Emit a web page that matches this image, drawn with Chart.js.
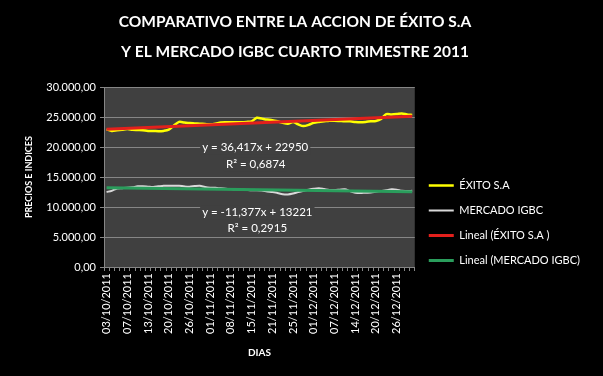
<!DOCTYPE html>
<html>
<head>
<meta charset="utf-8">
<script src="https://cdn.jsdelivr.net/npm/chart.js@4.4.0/dist/chart.umd.min.js"></script>
<style>
html,body{margin:0;padding:0;background:#000;}
</style>
</head>
<body>
<canvas id="chart_exito" width="603" height="376"></canvas>
<script>
// dias de negociacion, cuarto trimestre 2011
const dias = [
  "03/10/2011","04/10/2011","05/10/2011","06/10/2011","07/10/2011","10/10/2011","11/10/2011","12/10/2011","13/10/2011","14/10/2011",
  "18/10/2011","19/10/2011","20/10/2011","21/10/2011","24/10/2011","25/10/2011","26/10/2011","27/10/2011","28/10/2011","31/10/2011",
  "01/11/2011","02/11/2011","03/11/2011","04/11/2011","08/11/2011","09/11/2011","10/11/2011","11/11/2011","15/11/2011","16/11/2011",
  "17/11/2011","18/11/2011","21/11/2011","22/11/2011","23/11/2011","24/11/2011","25/11/2011","28/11/2011","29/11/2011","30/11/2011",
  "01/12/2011","02/12/2011","05/12/2011","06/12/2011","07/12/2011","09/12/2011","12/12/2011","13/12/2011","14/12/2011","15/12/2011",
  "16/12/2011","19/12/2011","20/12/2011","21/12/2011","22/12/2011","23/12/2011","26/12/2011","27/12/2011","28/12/2011","29/12/2011"
];

const exito = [
  22950,22700,22800,22900,23000,22900,22850,22800,22700,22700,
  22650,22700,22900,23600,24200,24100,24000,23950,23900,23850,
  23800,23900,24100,24150,24150,24150,24150,24200,24300,24900,
  24750,24600,24500,24300,24050,23900,24200,23800,23500,23700,
  24050,24200,24300,24400,24400,24350,24300,24300,24200,24150,
  24200,24300,24350,24700,25500,25450,25500,25600,25450,25350
];

const igbc = [
  12520,12700,13100,13150,13200,13300,13450,13450,13400,13350,
  13450,13550,13560,13550,13560,13450,13400,13500,13550,13350,
  13230,13200,13120,13050,13000,12960,12900,12850,12800,12800,
  12750,12600,12520,12350,12150,12100,12250,12500,12700,12900,
  13050,13130,13000,12850,12850,12900,12950,12650,12400,12350,
  12400,12420,12550,12680,12800,12950,12900,12700,12680,12700
];

// lineas de tendencia (primer y ultimo dia)
const tendenciaExito = [22986, 25135];
const tendenciaIgbc = [13210, 12538];

const ejeY = { min: 0, max: 30000, paso: 5000 };

function extremos(par){
  const arr = dias.map(() => null);
  arr[0] = par[0];
  arr[arr.length - 1] = par[1];
  return arr;
}

function formato(v){
  return Math.round(v).toString().replace(/\B(?=(\d{3})+(?!\d))/g, '.') + ',00';
}

const FUENTE = 'Lato, "Open Sans", sans-serif';

const fondo = {
  id: 'fondo',
  beforeDraw(chart){
    const {ctx, chartArea: a} = chart;
    ctx.save();
    ctx.fillStyle = '#000';
    ctx.fillRect(0, 0, chart.width, chart.height);
    ctx.fillStyle = '#404040';
    ctx.fillRect(a.left, a.top, a.right - a.left, a.bottom - a.top);
    ctx.restore();
  }
};

// ecuaciones de las tendencias, ubicadas en unidades del grafico
const ecuaciones = {
  id: 'ecuaciones',
  afterDatasetsDraw(chart){
    const {ctx, scales: {x, y}} = chart;
    const notas = [
      {t: 'y = 36,417x + 22950', i: 28.7, v: 19900},
      {t: 'R² = 0,6874', i: 28.8, v: 17150},
      {t: 'y = -11,377x + 13221', i: 29.1, v: 9050},
      {t: 'R² = 0,2915', i: 29.1, v: 6500}
    ];
    ctx.save();
    ctx.font = '11.5px ' + FUENTE;
    ctx.textAlign = 'center';
    ctx.textBaseline = 'middle';
    notas.forEach(n => {
      const px = x.getPixelForValue(n.i);
      const py = y.getPixelForValue(n.v);
      const w = ctx.measureText(n.t).width;
      ctx.fillStyle = '#404040';
      ctx.fillRect(px - w / 2 - 2, py - 7, w + 4, 14);
      ctx.fillStyle = '#fff';
      ctx.fillText(n.t, px, py);
    });
    ctx.restore();
  }
};

function dibujar(){
  new Chart(document.getElementById('chart_exito'), {
    type: 'line',
    data: {
      labels: dias,
      datasets: [{
        label: 'ÉXITO S.A',
        data: exito,
        borderColor: '#ffff00',
        borderWidth: 2.5,
        tension: 0.3,
        order: 1
      }, {
        label: 'MERCADO IGBC',
        data: igbc,
        borderColor: '#d9d9d9',
        borderWidth: 2,
        tension: 0.3,
        order: 1
      }, {
        label: 'Lineal (ÉXITO S.A )',
        data: extremos(tendenciaExito),
        borderColor: '#e3201c',
        borderWidth: 3,
        spanGaps: true,
        order: 0
      }, {
        label: 'Lineal (MERCADO IGBC)',
        data: extremos(tendenciaIgbc),
        borderColor: '#2a9d5c',
        borderWidth: 3,
        spanGaps: true,
        order: 0
      }]
    },
    options: {
      responsive: false,
      animation: false,
      devicePixelRatio: 1,
      elements: { point: { radius: 0, hoverRadius: 0 } },
      layout: { padding: { left: 0, right: 13, top: 0, bottom: 0 } },
      plugins: {
        title: {
          display: true,
          text: ['COMPARATIVO ENTRE LA ACCION DE ÉXITO S.A', 'Y EL MERCADO IGBC CUARTO TRIMESTRE 2011'],
          color: '#fff',
          font: { family: FUENTE, size: 15.5, weight: 'bold', lineHeight: 1.94 },
          padding: { top: 7, bottom: 20 }
        },
        legend: {
          position: 'right',
          align: 'center',
          maxWidth: 220,
          title: { display: true, text: ' ', font: { size: 10 }, padding: { top: 29, bottom: 29 } },
          labels: {
            color: '#fff',
            font: { family: FUENTE, size: 11 },
            usePointStyle: true,
            pointStyle: 'line',
            pointStyleWidth: 25,
            padding: 14,
            sort: (a, b) => a.datasetIndex - b.datasetIndex
          }
        },
        tooltip: { enabled: false }
      },
      scales: {
        x: {
          offset: true,
          grid: { offset: true, drawOnChartArea: false, color: '#868686', tickLength: 4 },
          border: { color: '#868686' },
          ticks: {
            color: '#fff',
            font: { family: FUENTE, size: 11 },
            autoSkip: false,
            minRotation: 90,
            maxRotation: 90,
            padding: 2,
            callback: (v, i) => (i % 4 === 0 ? dias[i] : '')
          },
          title: {
            display: true,
            text: 'DIAS',
            color: '#fff',
            font: { family: FUENTE, size: 10, weight: 'bold' },
            padding: { top: 2, bottom: 17 }
          },
          afterFit: s => { s.height = 109; }
        },
        y: {
          min: ejeY.min,
          max: ejeY.max,
          grid: { color: '#868686', tickLength: 4 },
          border: { color: '#868686' },
          ticks: {
            stepSize: ejeY.paso,
            color: '#fff',
            font: { family: FUENTE, size: 11 },
            padding: 4,
            callback: v => formato(v)
          },
          title: {
            display: true,
            text: 'PRECIOS E INDICES',
            color: '#fff',
            font: { family: FUENTE, size: 9, weight: 'bold' },
            padding: { top: 24, bottom: 0 }
          },
          afterFit: s => { s.width = 104; }
        }
      }
    },
    plugins: [fondo, ecuaciones]
  });
}

Promise.all([
  document.fonts.load('11px Lato'),
  document.fonts.load('bold 11px Lato')
]).then(dibujar, dibujar);
</script>
</body>
</html>
